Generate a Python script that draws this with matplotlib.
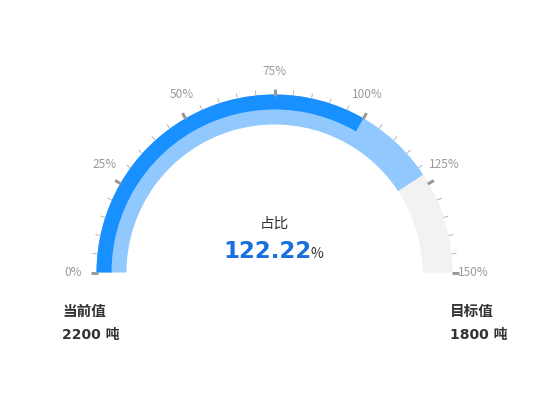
import numpy as np
import matplotlib
matplotlib.use('Agg')
import matplotlib.pyplot as plt
from matplotlib.patches import Wedge

plt.rcParams['font.family'] = ['Noto Sans CJK SC', 'DejaVu Sans']

# gauge data
current_value = 2200
target_value = 1800
unit = '吨'
ratio = 122.22          # percent shown in the middle
inner_bar = 100.0       # dark blue bar (percent)
gauge_max = 150
major_ticks = [0, 25, 50, 75, 100, 125, 150]
minor_step = 5

W, H = 550, 420
cx, cy = 274.5, H - 272.5
r_out, r_mid, r_in = 178, 163, 148

num_font = ['DejaVu Sans', 'Noto Sans CJK SC']


def pct_to_angle(p):
    return 180 - p / gauge_max * 180


fig = plt.figure(figsize=(5.5, 4.2), dpi=100)
ax = fig.add_axes([0, 0, 1, 1])
ax.set_xlim(0, W)
ax.set_ylim(0, H)
ax.set_aspect('equal')
ax.axis('off')

# background ring: light blue up to ratio, grey after
a_ratio = pct_to_angle(ratio)
ax.add_patch(Wedge((cx, cy), r_out, 0, a_ratio, width=r_out - r_in,
                   facecolor='#f2f2f2', edgecolor='none'))
ax.add_patch(Wedge((cx, cy), r_out, a_ratio, 180, width=r_out - r_in,
                   facecolor='#91c9ff', edgecolor='none'))
# dark blue progress bar on the outer half
ax.add_patch(Wedge((cx, cy), r_out, pct_to_angle(inner_bar), 180,
                   width=r_out - r_mid, facecolor='#1890ff', edgecolor='none'))

# ticks
for p in np.arange(0, gauge_max + 0.1, minor_step):
    a = np.radians(pct_to_angle(p))
    major = p in major_ticks
    r0, r1 = (177, 184) if major else (178, 183)
    ax.plot([cx + r0 * np.cos(a), cx + r1 * np.cos(a)],
            [cy + r0 * np.sin(a), cy + r1 * np.sin(a)],
            color='#999999' if major else '#b5b5b5',
            lw=2.2 if major else 0.7, solid_capstyle='butt')

# tick labels
for p in major_ticks:
    ang = pct_to_angle(p)
    if 0 < ang < 90:
        ang += 2.5
    elif 90 < ang < 180:
        ang -= 2.5
    a = np.radians(ang)
    r = 199 if p == gauge_max else 201
    ax.text(cx + r * np.cos(a), cy + r * np.sin(a), f'{p}%',
            ha='center', va='center', fontsize=8.5, color='#999999')

# centre text
ax.text(cx, H - 224, '占比', ha='center', va='center', fontsize=10.5,
        color='#333333')
ax.text(312, H - 258, f'{ratio:.2f}', ha='right', va='baseline',
        fontsize=16.5, fontweight='bold', color='#1a6fdf', family=num_font)
ax.text(310.5, H - 258, '%', ha='left', va='baseline', fontsize=10,
        color='#333333')

# bottom labels
ax.text(62, H - 311, '当前值', ha='left', va='center', fontsize=10.5,
        fontweight='bold', color='#333333')
ax.text(62, H - 335, f'{current_value} {unit}', ha='left', va='center',
        fontsize=10, fontweight='bold', color='#333333', family=num_font)
ax.text(450, H - 311, '目标值', ha='left', va='center', fontsize=10.5,
        fontweight='bold', color='#333333')
ax.text(450, H - 335, f'{target_value} {unit}', ha='left', va='center',
        fontsize=10, fontweight='bold', color='#333333', family=num_font)

fig.savefig('out.png', dpi=100, facecolor='white')
